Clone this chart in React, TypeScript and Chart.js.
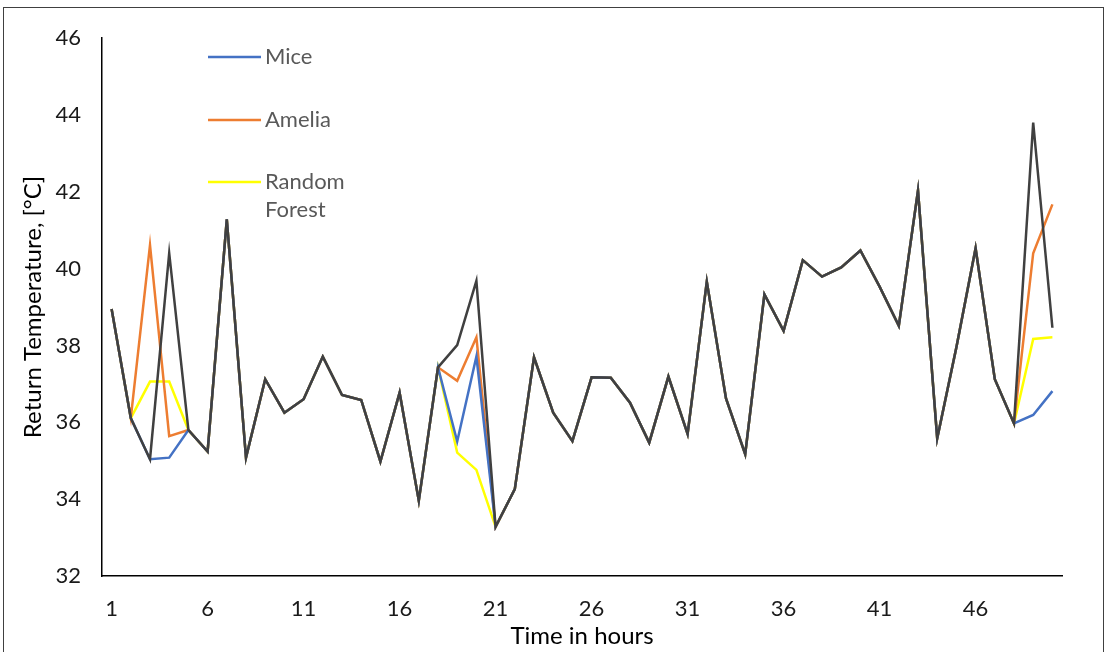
import React, { useEffect, useRef } from "react";
import { Chart, registerables } from "chart.js";

Chart.register(...registerables);

const hours: number[] = Array.from({ length: 50 }, (_, i) => i + 1);

const actualValues: number[] = [
  38.95, 36.11, 35.04, 40.4, 35.8, 35.24, 41.28, 35.08, 37.12, 36.25,
  36.6, 37.71, 36.71, 36.58, 34.98, 36.77, 33.96, 37.43, 38.01, 39.68,
  33.28, 34.26, 37.69, 36.25, 35.51, 37.17, 37.16, 36.51, 35.47, 37.19,
  35.7, 39.66, 36.62, 35.17, 39.33, 38.38, 40.22, 39.79, 40.03, 40.47,
  39.53, 38.51, 42.03, 35.58, 37.95, 40.53, 37.12, 35.97, 43.8, 38.46,
];

const miceValues: number[] = [
  38.95, 36.11, 35.04, 35.08, 35.8, 35.24, 41.28, 35.08, 37.12, 36.25,
  36.6, 37.71, 36.71, 36.58, 34.98, 36.77, 33.96, 37.43, 35.5, 37.71,
  33.28, 34.26, 37.69, 36.25, 35.51, 37.17, 37.16, 36.51, 35.47, 37.19,
  35.7, 39.66, 36.62, 35.17, 39.33, 38.38, 40.22, 39.79, 40.03, 40.47,
  39.53, 38.51, 42.03, 35.58, 37.95, 40.53, 37.12, 35.97, 36.19, 36.81,
];

const ameliaValues: number[] = [
  38.95, 36.11, 40.61, 35.64, 35.8, 35.24, 41.28, 35.08, 37.12, 36.25,
  36.6, 37.71, 36.71, 36.58, 34.98, 36.77, 33.96, 37.43, 37.08, 38.21,
  33.28, 34.26, 37.69, 36.25, 35.51, 37.17, 37.16, 36.51, 35.47, 37.19,
  35.7, 39.66, 36.62, 35.17, 39.33, 38.38, 40.22, 39.79, 40.03, 40.47,
  39.53, 38.51, 42.03, 35.58, 37.95, 40.53, 37.12, 35.97, 40.4, 41.67,
];

const randomForestValues: number[] = [
  38.95, 36.11, 37.06, 37.06, 35.8, 35.24, 41.28, 35.08, 37.12, 36.25,
  36.6, 37.71, 36.71, 36.58, 34.98, 36.77, 33.96, 37.43, 35.21, 34.76,
  33.28, 34.26, 37.69, 36.25, 35.51, 37.17, 37.16, 36.51, 35.47, 37.19,
  35.7, 39.66, 36.62, 35.17, 39.33, 38.38, 40.22, 39.79, 40.03, 40.47,
  39.53, 38.51, 42.03, 35.58, 37.95, 40.53, 37.12, 35.97, 38.17, 38.21,
];

const legendLabels: string[][] = [["Mice"], ["Amelia"], ["Random", "Forest"]];

const FONT = "Lato, 'Open Sans', sans-serif";

const legendPlugin = {
  id: "customLegend",
  afterDraw(chart: any) {
    const ctx = chart.ctx;
    const rows = [57, 120, 182];
    ctx.save();
    ctx.font = `22px ${FONT}`;
    ctx.textBaseline = "middle";
    ctx.textAlign = "left";
    const ds = chart.data.datasets.slice(1);
    ds.forEach((d: any, i: number) => {
      const y = rows[i];
      ctx.strokeStyle = d.borderColor;
      ctx.lineWidth = 2.5;
      ctx.beginPath();
      ctx.moveTo(208, y);
      ctx.lineTo(261, y);
      ctx.stroke();
      ctx.fillStyle = "#595959";
      legendLabels[i].forEach((line, j) => {
        ctx.fillText(line, 265, y + j * 28);
      });
    });
    ctx.restore();
  },
};

export default function App() {
  const ref = useRef<HTMLCanvasElement | null>(null);

  useEffect(() => {
    if (!ref.current) return;
    const common = {
      borderWidth: 2.5,
      pointRadius: 0,
      pointHoverRadius: 0,
      tension: 0,
      fill: false,
    };
    const chart = new Chart(ref.current, {
      type: "line",
      data: {
        labels: hours,
        datasets: [
          { label: "Actual", data: actualValues, borderColor: "#404040", ...common },
          { label: "Mice", data: miceValues, borderColor: "#4472C4", ...common },
          { label: "Amelia", data: ameliaValues, borderColor: "#ED7D31", ...common },
          { label: "Random Forest", data: randomForestValues, borderColor: "#FFFF00", ...common },
        ],
      },
      options: {
        animation: false,
        responsive: false,
        layout: { padding: { top: 38, right: 45, left: 0, bottom: 0 } },
        plugins: {
          legend: { display: false },
          tooltip: { enabled: false },
        },
        scales: {
          x: {
            type: "category",
            offset: true,
            grid: { display: false, drawTicks: false },
            border: { display: true, color: "#000000", width: 1.5 },
            ticks: {
              autoSkip: false,
              maxRotation: 0,
              padding: 20,
              color: "#1a1a1a",
              font: { family: FONT, size: 22 },
              callback: (_v: any, i: number) => (i % 5 === 0 ? String(hours[i]) : ""),
            },
            title: {
              display: true,
              text: "Time in hours",
              color: "#000000",
              font: { family: FONT, size: 24 },
              padding: { top: 0, bottom: 1 },
            },
            afterFit: (s: any) => {
              s.height = 76;
            },
          },
          y: {
            min: 32,
            max: 46,
            grid: { display: false, drawTicks: false },
            border: { display: true, color: "#000000", width: 1.5 },
            ticks: {
              stepSize: 2,
              padding: 21,
              color: "#1a1a1a",
              font: { family: FONT, size: 22 },
            },
            title: {
              display: true,
              text: "Return Temperature, [°C]",
              color: "#000000",
              font: { family: FONT, size: 24 },
              padding: { top: 19, bottom: 0 },
            },
            afterFit: (s: any) => {
              s.width = 102;
            },
          },
        },
      },
      plugins: [legendPlugin],
    });
    return () => chart.destroy();
  }, []);

  return (
    <div style={{ position: "fixed", left: 0, top: 0, width: 1107, height: 652, background: "#fff", overflow: "hidden" }}>
      <canvas ref={ref} width={1107} height={652} style={{ display: "block", position: "absolute", left: 0, top: 0 }} />
      <div
        style={{
          position: "absolute",
          left: 3,
          top: 7,
          width: 1099,
          height: 700,
          border: "1.5px solid #404040",
          pointerEvents: "none",
        }}
      />
    </div>
  );
}
